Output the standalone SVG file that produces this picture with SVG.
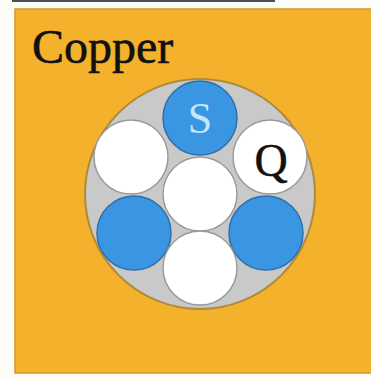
<svg xmlns="http://www.w3.org/2000/svg" width="371" height="379" viewBox="0 0 371 379">
<style>
.blue{fill:#3a96e2;stroke:#2f6fa8;stroke-width:1.5}
.white{fill:#ffffff;stroke:#9a9a9a;stroke-width:1.5}
.lbl{text-anchor:middle}
</style>
<rect x="0" y="0" width="371" height="379" fill="#fdfdf8"/>
<line x1="12" y1="1" x2="275" y2="1" stroke="#4a5050" stroke-width="2"/>
<g id="copper">
<rect x="15" y="9" width="362" height="364" fill="#f4b12c" stroke="#d6982a" stroke-width="1.5"/>
<text font-family="Liberation Serif, serif" x="32" y="63" font-size="48" fill="#111" stroke="#111" stroke-width="0.6">Copper</text>
</g>
<g id="cable">
<circle cx="200" cy="194" r="115" fill="#c9c9c9" stroke="#b08a3c" stroke-width="2"/>
</g>
<g id="s"><circle class="blue" cx="200" cy="118" r="37"/><text font-family="Liberation Serif, serif" text-anchor="middle" x="200" y="133" font-size="44" fill="#c2e6fb">S</text></g>
<g id="q"><circle class="white" cx="270" cy="157" r="37"/><text font-family="Liberation Serif, serif" text-anchor="middle" x="271" y="176" font-size="46" fill="#111" stroke="#111" stroke-width="0.5">Q</text></g>
<g id="ul"><circle class="white" cx="131" cy="157" r="37"/></g>
<g id="center"><circle class="white" cx="200" cy="194" r="37"/></g>
<g id="ll"><circle class="blue" cx="134" cy="233" r="37"/></g>
<g id="lr"><circle class="blue" cx="266" cy="233" r="37"/></g>
<g id="bottom"><circle class="white" cx="200" cy="268" r="37"/></g>
<g id="connectors"/>
</svg>
